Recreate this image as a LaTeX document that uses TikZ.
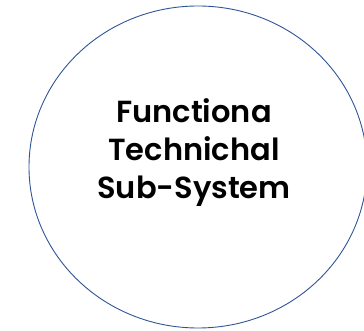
\documentclass[tikz,border=0pt]{standalone}
\usepackage{fontspec}
\setmainfont{Poppins}[BoldFont={Poppins SemiBold}]
\usepackage{tikz}
\usetikzlibrary{shapes.geometric}
\usetikzlibrary{positioning}
\definecolor{rimblue}{RGB}{47,85,151}

\begin{document}
\begin{tikzpicture}[x=1pt, y=1pt, every node/.style={inner sep=0pt}]
    \useasboundingbox (0,0) rectangle (364,331);
    \clip (0,0) rectangle (364,331);
    \node (sys) [ellipse, draw=rimblue, line width=0.9pt, minimum width=338pt, minimum height=322pt] at (198,164) {};
    \node (name) [align=center, font=\fontsize{30.5}{38}\selectfont\bfseries] at (194,178) {Functiona\\Technichal\\Sub-System};
\end{tikzpicture}
\end{document}
